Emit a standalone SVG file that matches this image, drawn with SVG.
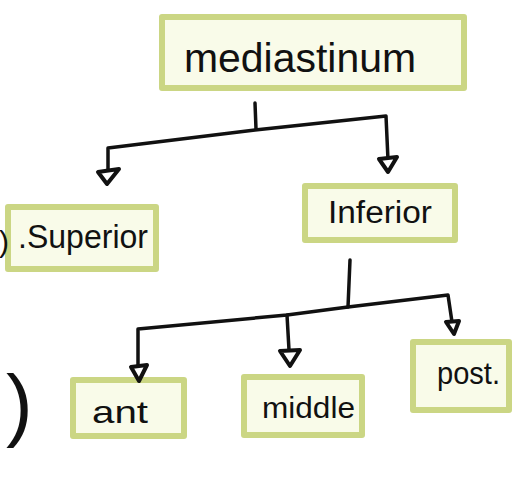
<svg xmlns="http://www.w3.org/2000/svg" width="517" height="484" viewBox="0 0 517 484">
  <defs>
    <style>
      .box { fill: #f9fbe9; stroke: #cbd684; stroke-width: 6; stroke-linejoin: round; }
      .lbl { font-family: "Liberation Sans", "DejaVu Sans", sans-serif; fill: #111; }
      .wire { fill: none; stroke: #111; stroke-width: 3.5; stroke-linecap: round; stroke-linejoin: round; }
      .head { fill: #fff; stroke: #111; stroke-width: 4; stroke-linejoin: round; }
    </style>
  </defs>
  <rect width="517" height="484" fill="#ffffff"/>

  <g id="node-mediastinum">
    <rect class="box" x="162" y="17" width="302" height="71"/>
    <text class="lbl" x="184" y="72" font-size="40" textLength="232" lengthAdjust="spacingAndGlyphs">mediastinum</text>
  </g>

  <g id="node-superior">
    <rect class="box" x="8" y="207" width="148" height="62"/>
    <text class="lbl" x="18" y="248" font-size="34" textLength="130" lengthAdjust="spacingAndGlyphs">.Superior</text>
  </g>

  <g id="node-inferior">
    <rect class="box" x="305" y="186" width="150" height="54"/>
    <text class="lbl" x="328" y="223" font-size="31" textLength="104" lengthAdjust="spacingAndGlyphs">Inferior</text>
  </g>

  <g id="node-ant">
    <rect class="box" x="73" y="380" width="111" height="56"/>
    <text class="lbl" x="92" y="423" font-size="32" textLength="56" lengthAdjust="spacingAndGlyphs">ant</text>
  </g>

  <g id="node-middle">
    <rect class="box" x="244" y="377" width="118" height="58"/>
    <text class="lbl" x="262" y="418" font-size="30" textLength="93" lengthAdjust="spacingAndGlyphs">middle</text>
  </g>

  <g id="node-post">
    <rect class="box" x="413" y="342" width="96" height="68"/>
    <text class="lbl" x="437" y="384" font-size="31" textLength="63" lengthAdjust="spacingAndGlyphs">post.</text>
  </g>

  <g id="connectors">
    <path class="wire" d="M255,103 L256,129"/>
    <path class="wire" d="M108,172 L108,148 L255,130 L386,116 L388,160"/>
    <polygon class="head" points="379,159 397,157 388,172"/>
    <polygon class="head" points="98,172 119,169 107,184"/>

    <path class="wire" d="M350,260 L348,307"/>
    <path class="wire" d="M138,366 L138,329 L287,315 L348,307 L448,295 L452,322"/>
    <path class="wire" d="M287,315 L289,350"/>
    <polygon class="head" points="131,367 147,365 139,381"/>
    <polygon class="head" points="280,351 300,350 290,366"/>
    <polygon class="head" points="446,322 459,321 454,334"/>
  </g>

  <g id="margin-marks">
    <text class="lbl" x="-1" y="252" font-size="30">)</text>
    <text class="lbl" x="6" y="431" font-size="80">)</text>
  </g>
</svg>
